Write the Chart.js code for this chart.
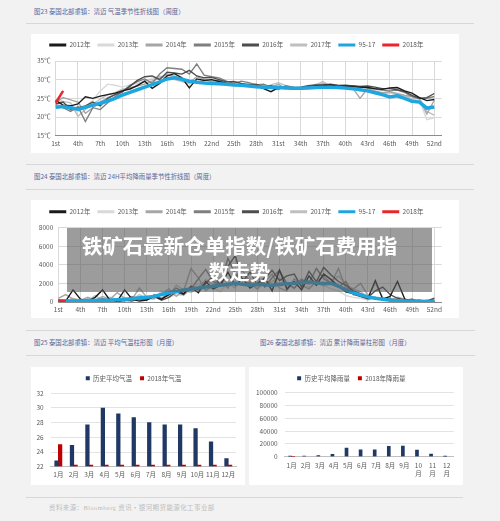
<!DOCTYPE html>
<html><head><meta charset="utf-8">
<script src="https://cdn.jsdelivr.net/npm/chart.js@4.4.0/dist/chart.umd.min.js"></script>
<style>
html,body{margin:0;padding:0;}
body{width:500px;height:521px;background:#f2f2f2;position:relative;overflow:hidden;font-family:'Noto Sans CJK SC','Noto Sans',sans-serif;}
.t{position:absolute;font-size:6.4px;color:#5b6597;white-space:nowrap;line-height:1;}
.hr{position:absolute;height:0;border-top:1.5px solid #d8d8d8;}
.panel{position:absolute;background:#fff;}
canvas{position:absolute;}
#ov{position:absolute;left:67px;top:228px;width:365px;height:64px;background:rgba(90,90,90,0.6);}
#ovt{position:absolute;left:67px;top:228px;width:345px;padding-right:20px;padding-top:5px;text-align:center;color:#fff;font-weight:700;font-size:20.5px;line-height:25.5px;font-family:'Noto Sans CJK SC',sans-serif;white-space:nowrap;}
#src{position:absolute;left:49px;top:505px;font-size:6.5px;color:#bdbdbd;letter-spacing:0.4px;font-family:'Liberation Serif','Noto Sans CJK SC',serif;white-space:nowrap;line-height:1;}
</style>
</head><body>
<div class="t" style="left:34px;top:9px;">图23 泰国北部重镇：清迈 气温季节性折线图（周度）</div>
<div class="hr" style="left:26px;top:23px;width:448px;"></div>
<div class="panel" style="left:31px;top:34px;width:428px;height:119px;"></div>
<canvas id="c1" width="428" height="119" style="left:31px;top:34px;"></canvas>

<div class="hr" style="left:26px;top:164px;width:448px;"></div>
<div class="t" style="left:34px;top:174px;">图24 泰国北部重镇：清迈 24H平均降雨量季节性折线图（周度）</div>
<div class="hr" style="left:26px;top:189px;width:448px;"></div>
<div class="panel" style="left:31px;top:200px;width:428px;height:118px;"></div>
<canvas id="c2" width="428" height="118" style="left:31px;top:200px;"></canvas>

<div class="hr" style="left:26px;top:330px;width:449px;"></div>
<div class="t" style="left:34px;top:340px;">图25 泰国北部重镇：清迈 平均气温柱形图（月度）</div>
<div class="t" style="left:260px;top:340px;">图26 泰国北部重镇：清迈 累计降雨量柱形图（月度）</div>
<div class="hr" style="left:26px;top:355px;width:449px;"></div>
<div class="panel" style="left:31px;top:367px;width:214px;height:118px;"></div>
<canvas id="c3" width="214" height="118" style="left:31px;top:367px;"></canvas>
<div class="panel" style="left:249px;top:367px;width:214px;height:118px;"></div>
<canvas id="c4" width="214" height="118" style="left:249px;top:367px;"></canvas>
<div class="hr" style="left:26px;top:497px;width:437px;"></div>
<div id="src">资料来源：Bloomberg 资讯 • 银河期货能源化工事业部</div>

<div id="ov"></div>
<div id="ovt">铁矿石最新仓单指数/铁矿石费用指<br>数走势</div>

<script>
// ---------- data ----------
const weeks = ['1st','2nd','3rd','4th','5th','6th','7th','8th','9th','10th','11th','12th','13th','14th','15th','16th','17th','18th','19th','20th','21st','22nd','23rd','24th','25th','26th','27th','28th','29th','30th','31st','32nd','33rd','34th','35th','36th','37th','38th','39th','40th','41st','42nd','43rd','44th','45th','46th','47th','48th','49th','50th','51st','52nd','53rd'];
const seriesNames = ['2012年','2013年','2014年','2015年','2016年','2017年','95-17','2018年'];
const tempTicks = [15, 20, 25, 30, 35];
const rainTicks = [0, 2000, 4000, 6000, 8000];

const temp2012 = [24.5,23.2,23.0,23.5,25.4,25.0,25.6,26.0,26.4,27.0,27.5,28.4,29.6,27.7,29.0,31.0,31.6,30.5,27.8,30.2,29.8,30.0,29.5,29.0,28.6,28.8,28.2,28.4,27.6,26.8,27.9,27.8,27.5,27.6,27.9,28.3,28.4,28.6,28.2,28.3,28.1,28.0,27.9,27.6,27.4,27.8,27.9,27.0,26.4,25.2,24.4,24.7];
const temp2013 = [23.5,23.0,22.0,21.5,22.8,24.5,27.0,28.8,28.5,28.0,28.6,29.0,29.5,30.5,31.0,30.5,31.2,30.0,29.6,29.8,30.2,29.4,29.0,28.8,29.3,29.0,28.5,28.0,28.6,28.2,28.4,28.0,27.6,27.8,28.2,28.8,29.0,28.4,28.0,27.8,27.6,27.5,27.2,26.8,26.0,26.5,26.0,25.5,24.5,24.5,19.3,19.8];
const temp2014 = [24.0,25.2,24.6,24.0,21.0,22.5,24.0,25.2,26.0,27.2,27.8,28.3,28.8,29.6,30.4,31.4,30.8,30.3,29.2,30.8,30.0,29.5,29.8,29.2,28.8,28.5,28.8,28.0,28.4,28.0,28.8,27.6,28.0,27.5,27.8,28.0,28.5,28.2,28.4,28.0,27.8,25.0,27.6,27.0,26.5,26.8,26.2,25.8,25.5,24.8,20.8,24.5];
const temp2015 = [23.0,22.5,21.5,22.8,18.8,22.5,22.0,23.8,25.5,26.8,28.5,29.5,30.2,29.0,31.5,33.2,33.0,32.8,31.5,34.2,31.2,30.8,30.5,29.6,29.0,29.6,29.2,28.6,28.8,28.0,27.4,28.4,28.0,27.8,28.2,28.4,28.8,28.6,28.4,28.6,28.3,28.0,27.8,27.5,27.2,27.0,27.2,26.6,25.5,25.0,25.0,25.5];
const temp2016 = [23.5,24.0,22.0,22.5,23.0,24.0,23.0,25.0,26.0,26.8,28.2,29.8,30.8,31.0,30.0,32.0,31.8,31.5,32.5,31.0,30.5,30.6,30.0,29.4,29.5,29.0,28.6,28.8,28.0,28.4,27.8,28.0,27.8,28.0,28.4,28.6,28.6,28.8,28.5,28.3,28.4,28.2,28.3,28.0,27.6,27.6,27.3,26.8,25.8,25.0,25.2,26.3];
const temp2017 = [24.5,24.2,23.8,20.2,22.0,23.5,24.8,26.0,26.5,27.5,27.4,28.6,29.8,30.0,30.8,30.2,30.0,29.5,29.0,29.6,29.2,29.0,29.4,28.6,28.4,28.8,29.0,28.4,27.8,28.6,29.2,28.4,27.8,27.6,28.0,28.6,29.5,28.2,28.0,27.8,27.5,27.4,26.8,26.5,26.0,26.6,26.4,25.8,24.8,25.0,21.5,20.5];
const temp9517 = [22.6,22.8,22.5,22.1,22.6,23.2,23.7,24.3,25.0,25.9,26.6,27.3,28.0,28.7,29.4,30.2,30.5,30.1,29.6,29.3,29.1,29.0,28.9,28.8,28.6,28.5,28.3,28.1,28.0,27.9,27.9,27.8,27.7,27.7,27.8,27.9,28.0,28.0,27.9,27.8,27.6,27.3,27.0,26.5,26.0,25.4,25.7,25.0,24.2,24.0,22.4,22.7];
const temp2018 = [23.8,27.0];

const rain2012 = [200,100,1300,300,100,500,1300,200,100,1300,300,100,200,600,300,800,1200,900,1600,1000,2200,1400,1800,3200,1800,2500,1500,2000,2600,1200,3400,1400,2200,1300,2800,1800,3000,2400,1700,1100,900,600,400,2300,300,600,2200,300,100,200,0,100];
const rain2013 = [0,100,200,100,0,300,200,400,100,200,500,300,600,400,1200,500,800,700,1300,2000,1600,1500,1100,2200,3000,1800,2600,1500,2400,1800,1600,2000,1400,2600,1600,2000,1800,1400,1200,700,500,400,200,400,300,200,100,0,100,0,0,0];
const rain2014 = [400,800,300,200,500,200,600,300,1000,400,300,1500,500,400,900,1400,600,1200,3600,2600,1200,1800,2300,1500,2800,3400,2000,1400,2200,3000,1500,1200,2500,1800,1400,2200,2800,2000,3600,1500,1400,2000,700,300,400,200,500,300,100,0,200,0];
const rain2015 = [100,200,0,100,300,100,400,100,200,100,600,300,200,800,400,900,1500,1100,1400,2500,3500,2200,1800,4700,3000,2400,2000,2800,1600,2600,3400,2000,1500,2400,2000,3600,2500,2000,1600,2200,800,600,300,500,200,400,100,0,0,100,0,0];
const rain2016 = [0,0,100,0,200,0,100,300,0,200,100,400,300,600,200,500,1100,800,1700,1300,2000,2800,1800,3800,5000,2200,3200,1800,2500,3400,2300,2800,3000,1600,3300,2200,3700,2900,2200,1800,1200,900,500,1200,1600,800,400,200,300,0,100,400];
const rain2017 = [200,100,400,200,100,700,200,500,300,100,200,800,400,300,1000,600,1800,1300,1000,1600,2400,1900,2600,2000,1500,3000,2300,2600,1800,2200,2600,1700,2000,2400,1900,2100,1700,2200,2800,1900,1400,1100,600,2000,500,300,200,100,300,0,200,300];
const rain9517 = [80,100,100,120,150,150,200,200,250,300,350,450,500,600,800,1000,1100,1300,1400,1500,1600,1700,1800,1900,2000,1900,1800,1900,1850,1800,1900,1950,2000,2100,2150,2050,2000,2000,1700,1300,1000,750,550,400,300,200,150,120,100,80,60,50];
const rain2018 = [150,100];

const months = ['1月','2月','3月','4月','5月','6月','7月','8月','9月','10月','11月','12月'];
const tempMonthNames = ['历史平均气温','2018年气温'];
const tempMonthHist = [22.8,24.9,27.7,30.0,29.2,28.7,28.0,27.7,27.7,27.2,25.4,23.1];
const tempMonth2018 = [25.0,22,22,22,22,22,22,22,22,22,22,22];
const tempMonthTicks = [22,24,26,28,30,32];
const rainMonthNames = ['历史平均降雨量','2018年降雨量'];
const rainMonthHist = [500,1000,1600,3700,13500,10900,10900,16200,16700,10400,4200,500];
const rainMonth2018 = [0];
const rainMonthTicks = [0,20000,40000,60000,80000,100000];

// ---------- styling ----------
Chart.defaults.font.family = "'Noto Sans CJK SC','Noto Sans',sans-serif";
Chart.defaults.font.size = 6.5;
Chart.defaults.color = '#595959';

const lineColors = ['#1a1a1a','#d9d9d9','#a6a6a6','#7f7f7f','#4d4d4d','#bfbfbf','#1ea6e0','#e8262b'];
const lineWidths = [1.4,1.4,1.4,1.4,1.4,1.4,3.5,2.5];
const lineOrder = [2,7,5,4,3,6,1,0];

function legendPlugin(h){
  return {id:'legendFix', beforeLayout(chart){
    const lg = chart.legend;
    if (lg && !lg._patched){ const f = lg.fit; lg.fit = function(){ f.call(this); this.height = h; }; lg._patched = true; }
  }};
}
function genLabels(chart){
  return Chart.defaults.plugins.legend.labels.generateLabels(chart).map(it => { it.lineWidth = 0; it.fillStyle = it.strokeStyle; return it; });
}
const byIndex = (a, b) => a.datasetIndex - b.datasetIndex;

function lineChart(id, arrays, tickVals, fmt, L){
  const ds = arrays.map((a,i) => ({label:seriesNames[i], data:a, borderColor:lineColors[i], backgroundColor:lineColors[i], borderWidth:lineWidths[i], pointRadius:0, tension:0, order:lineOrder[i], spanGaps:false}));
  new Chart(document.getElementById(id), {
    type:'line',
    data:{labels:weeks, datasets:ds},
    plugins:[legendPlugin(L.legH)],
    options:{
      responsive:false, animation:false, devicePixelRatio:1,
      layout:{padding:{top:L.padTop, right:L.right, bottom:0, left:0}},
      plugins:{legend:{labels:{boxWidth:17, boxHeight:3, padding:7, generateLabels:genLabels, sort:byIndex}}, tooltip:{enabled:false}},
      scales:{
        x:{ticks:{autoSkip:false, maxRotation:0, padding:L.xpad, callback(v,i){ return i%3===0 ? this.getLabelForValue(v) : ''; }},
           grid:{color:c => (c.index%3===0 ? '#d9d9d9' : 'rgba(0,0,0,0)'), drawTicks:false},
           border:{color:'#8c8c8c'}, afterFit(s){ s.height = L.xH; }},
        y:{min:tickVals[0], max:tickVals[tickVals.length-1],
           afterBuildTicks(s){ s.ticks = tickVals.map(v => ({value:v})); },
           ticks:{padding:5, callback:fmt}, grid:{color:'#d9d9d9', drawTicks:false}, border:{display:false},
           afterFit(s){ s.width = L.yW; }}
      }
    }
  });
}

lineChart('c1', [temp2012,temp2013,temp2014,temp2015,temp2016,temp2017,temp9517,temp2018], tempTicks, v => v + '℃',
  {legH:26.25, padTop:0.75, right:17.3, xpad:4.4, xH:17.3, yW:24.7});
lineChart('c2', [rain2012,rain2013,rain2014,rain2015,rain2016,rain2017,rain9517,rain2018], rainTicks, v => String(v),
  {legH:26.05, padTop:1.45, right:17.3, xpad:4, xH:16, yW:27.3});

function barChart(id, labels, names, hist, y2018, tickVals, L, thick, base){
  new Chart(document.getElementById(id), {
    type:'bar',
    data:{labels, datasets:[
      {label:names[0], data:hist, backgroundColor:'#203864', borderColor:'#203864', barThickness:thick, categoryPercentage:0.62, base:base},
      {label:names[1], data:y2018, backgroundColor:'#c00000', borderColor:'#c00000', barThickness:thick, categoryPercentage:0.62, base:base, minBarLength:base===undefined?0:1.6}
    ]},
    plugins:[legendPlugin(L.legH)],
    options:{
      responsive:false, animation:false, devicePixelRatio:1,
      layout:{padding:{top:L.padTop, right:L.right, bottom:0, left:0}},
      plugins:{legend:{labels:{boxWidth:4, boxHeight:4, padding:8, generateLabels:genLabels, sort:byIndex}}, tooltip:{enabled:false}},
      scales:{
        x:{ticks:{autoSkip:false, maxRotation:0, padding:L.xpad}, grid:{display:false, drawTicks:false}, border:{color:'#bfbfbf'}, afterFit(s){ s.height = L.xH; }},
        y:{min:tickVals[0], max:tickVals[tickVals.length-1],
           afterBuildTicks(s){ s.ticks = tickVals.map(v => ({value:v})); },
           ticks:{padding:7, callback:v => String(v)}, grid:{color:'#e3e3e3', drawTicks:false}, border:{display:false},
           afterFit(s){ s.width = L.yW; }}
      }
    }
  });
}
barChart('c3', months, tempMonthNames, tempMonthHist, tempMonth2018, tempMonthTicks,
  {legH:26.25, padTop:0.05, right:9, xpad:4.4, xH:18.3, yW:19.6}, 3.6, 22);
barChart('c4', months.map(m => m.length > 2 ? [m.slice(0,-1), '月'] : m), rainMonthNames, rainMonthHist, rainMonth2018, rainMonthTicks,
  {legH:25.65, padTop:0.05, right:9.3, xpad:5, xH:28.3, yW:35.6}, 3, undefined);
</script>
</body></html>
